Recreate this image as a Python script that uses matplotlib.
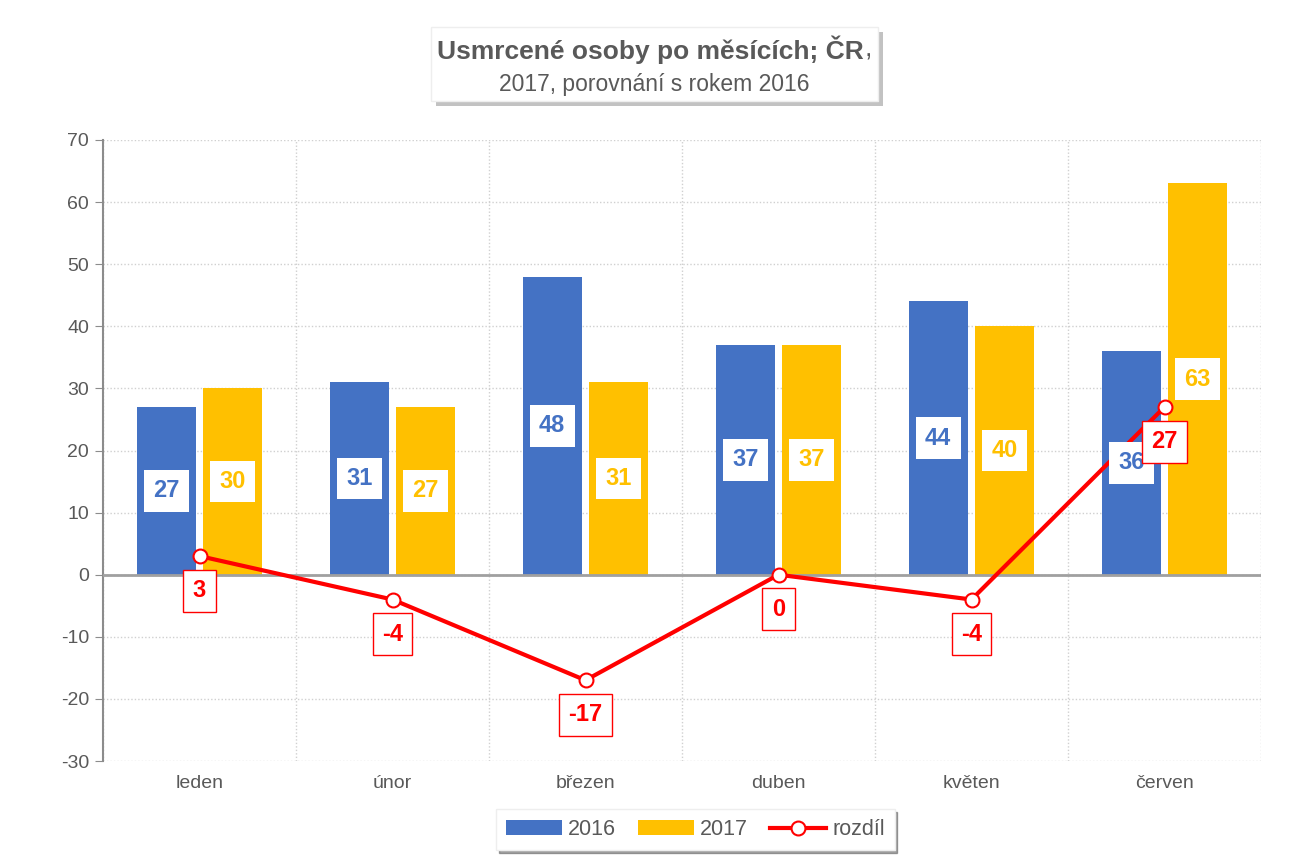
import numpy as np
import matplotlib.pyplot as plt
from matplotlib.patches import Rectangle

months = ["leden", "únor", "březen", "duben", "květen", "červen"]
v2016 = [27, 31, 48, 37, 44, 36]
v2017 = [30, 27, 31, 37, 40, 63]
diff = [3, -4, -17, 0, -4, 27]

blue = "#4472C4"
gold = "#FFC000"
red = "#FF0000"
grey = "#595959"

plt.rcParams['font.family'] = ['Liberation Sans Narrow', 'Liberation Sans', 'DejaVu Sans']
plt.rcParams['axes.unicode_minus'] = False

W, H = 1295, 866
fig = plt.figure(figsize=(W / 100, H / 100), dpi=100)
ax = fig.add_axes([103 / W, 1 - 761 / H, 1158 / W, 621 / H])

x = np.arange(len(months))
w = 0.305
gap = 0.02
b1 = ax.bar(x - w/2 - gap, v2016, w, color=blue, label="2016", zorder=2)
b2 = ax.bar(x + w/2 + gap, v2017, w, color=gold, label="2017", zorder=2)
ln, = ax.plot(x, diff, color=red, lw=3, marker='o', ms=10, mfc='white',
              mec=red, mew=1.5, label="rozdíl", zorder=4)

for bars, vals, col in [(b1, v2016, blue), (b2, v2017, gold)]:
    for b, v in zip(bars, vals):
        ax.text(b.get_x() + b.get_width()/2, v/2, str(v), ha='center', va='center',
                fontsize=17, fontweight='bold', color=col, zorder=5,
                bbox=dict(boxstyle='square,pad=0.4', fc='white', ec='none'))

for xi, d in zip(x, diff):
    ax.annotate(str(d), (xi, d), xytext=(0, -25), textcoords='offset points',
                ha='center', va='center', fontsize=17, fontweight='bold', color=red,
                zorder=6, bbox=dict(boxstyle='square,pad=0.4', fc='white', ec=red, lw=1))

ax.set_xlim(-0.5, len(months) - 0.5)
ax.set_ylim(-30, 70)
ax.set_yticks(range(-30, 71, 10))
ax.set_xticks(x)
ax.set_xticklabels(months)
ax.set_xticks(np.arange(-0.5, len(months)), minor=True)
ax.tick_params(axis='x', which='both', length=0, labelsize=14, labelcolor=grey, pad=10)
ax.tick_params(axis='y', length=6, color='#8c8c8c', labelsize=14, labelcolor=grey, pad=4)

ax.grid(axis='y', ls=(0, (1, 1.5)), color='#d0d0d0', lw=1, zorder=0)
ax.grid(axis='x', which='minor', ls=(0, (1, 1.5)), color='#d0d0d0', lw=1, zorder=0)
for s in ['top', 'right', 'bottom']:
    ax.spines[s].set_visible(False)
ax.spines['left'].set_color('#8c8c8c')
ax.spines['left'].set_linewidth(1.5)
ax.axhline(0, color='#a0a0a0', lw=2, zorder=3)

# title box with shadow
bx0, by0, bx1, by1 = 431, 27, 878, 101
fig.patches.append(Rectangle(((bx0 + 5) / W, 1 - (by1 + 5) / H), (bx1 - bx0) / W, (by1 - by0) / H,
                             transform=fig.transFigure, fc='#a8a8a8', ec='none', alpha=0.7))
fig.patches.append(Rectangle((bx0 / W, 1 - by1 / H), (bx1 - bx0) / W, (by1 - by0) / H,
                             transform=fig.transFigure, fc='white', ec='#eeeeee'))
tx = 0.5 * (bx0 + bx1) / W
t1 = fig.text(tx, 1 - 50 / H, "Usmrcené osoby po měsících; ČR", ha='center', va='center',
              fontsize=19, fontweight='bold', color=grey)
t2 = fig.text(tx, 1 - 85 / H, "2017, porovnání s rokem 2016", ha='center', va='center',
              fontsize=16.5, color=grey)
comma = fig.text(0, 1 - 50 / H, ",", ha='left', va='center', fontsize=19, color=grey)
fig.canvas.draw()
r = fig.canvas.get_renderer()
e1 = t1.get_window_extent(r)
ec = comma.get_window_extent(r)
shift = ec.width / 2
t1.set_x((e1.x0 + e1.width / 2 - shift) / W)
comma.set_x((e1.x1 - shift) / W)

leg = fig.legend(handles=[b1, b2, ln], loc='center', bbox_to_anchor=(0.537, 0.042),
                 ncol=3, frameon=True, shadow=True, fancybox=False, fontsize=15.5,
                 handlelength=2.6, columnspacing=1.0, handletextpad=0.3, borderpad=0.45)
leg.get_frame().set_edgecolor('#eeeeee')
for t in leg.get_texts():
    t.set_color(grey)

fig.savefig("out.png", dpi=100)
